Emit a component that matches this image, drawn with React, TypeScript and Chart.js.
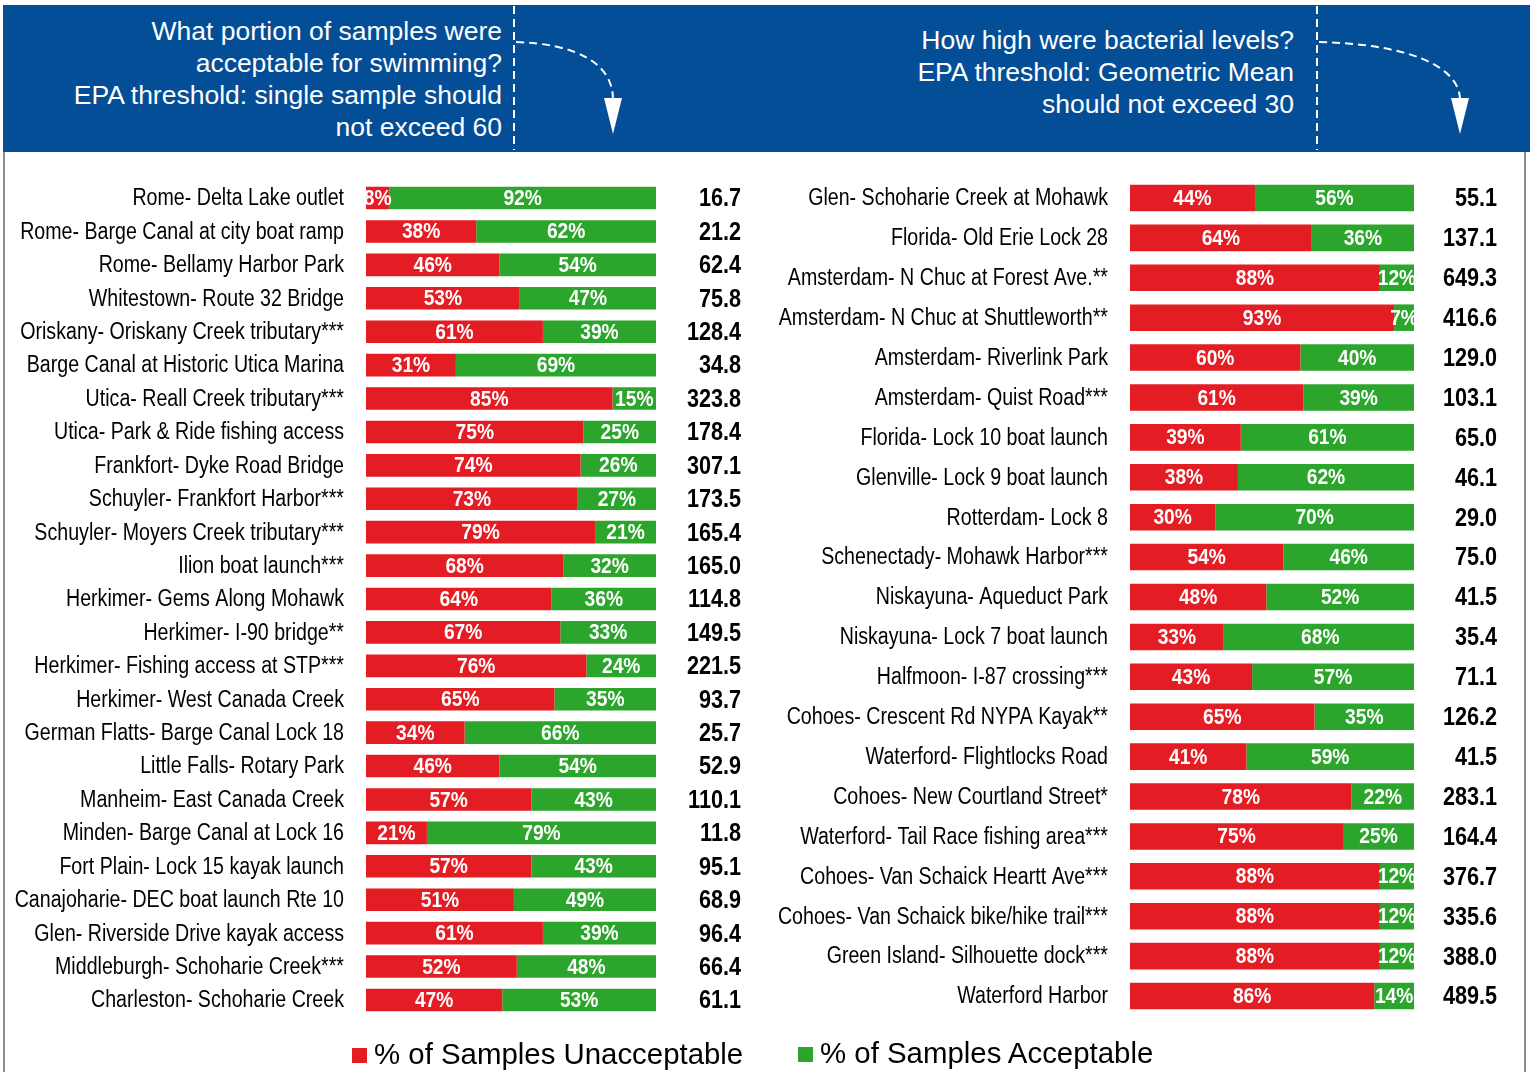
import React, { useEffect, useRef } from 'react';
import { Chart, registerables } from 'chart.js';

Chart.register(...registerables);

// ---------------- DATA ----------------
const leftSites = [
  'Rome- Delta Lake outlet',
  'Rome- Barge Canal at city boat ramp',
  'Rome- Bellamy Harbor Park',
  'Whitestown- Route 32 Bridge',
  'Oriskany- Oriskany Creek tributary***',
  'Barge Canal at Historic Utica Marina',
  'Utica- Reall Creek tributary***',
  'Utica- Park & Ride fishing access',
  'Frankfort- Dyke Road Bridge',
  'Schuyler- Frankfort Harbor***',
  'Schuyler- Moyers Creek tributary***',
  'Ilion boat launch***',
  'Herkimer- Gems Along Mohawk',
  'Herkimer- I-90 bridge**',
  'Herkimer- Fishing access at STP***',
  'Herkimer- West Canada Creek',
  'German Flatts- Barge Canal Lock 18',
  'Little Falls- Rotary Park',
  'Manheim- East Canada Creek',
  'Minden- Barge Canal at Lock 16',
  'Fort Plain- Lock 15 kayak launch',
  'Canajoharie- DEC boat launch Rte 10',
  'Glen- Riverside Drive kayak access',
  'Middleburgh- Schoharie Creek***',
  'Charleston- Schoharie Creek',
];
const leftUnacceptable = [8, 38, 46, 53, 61, 31, 85, 75, 74, 73, 79, 68, 64, 67, 76, 65, 34, 46, 57, 21, 57, 51, 61, 52, 47];
const leftAcceptable = [92, 62, 54, 47, 39, 69, 15, 25, 26, 27, 21, 32, 36, 33, 24, 35, 66, 54, 43, 79, 43, 49, 39, 48, 53];
const leftGeoMean = [16.7, 21.2, 62.4, 75.8, 128.4, 34.8, 323.8, 178.4, 307.1, 173.5, 165.4, 165.0, 114.8, 149.5, 221.5, 93.7, 25.7, 52.9, 110.1, 11.8, 95.1, 68.9, 96.4, 66.4, 61.1];

const rightSites = [
  'Glen- Schoharie Creek at Mohawk',
  'Florida- Old Erie Lock 28',
  'Amsterdam- N Chuc at Forest Ave.**',
  'Amsterdam- N Chuc at Shuttleworth**',
  'Amsterdam- Riverlink Park',
  'Amsterdam- Quist Road***',
  'Florida- Lock 10 boat launch',
  'Glenville- Lock 9 boat launch',
  'Rotterdam- Lock 8',
  'Schenectady- Mohawk Harbor***',
  'Niskayuna- Aqueduct Park',
  'Niskayuna- Lock 7 boat launch',
  'Halfmoon- I-87 crossing***',
  'Cohoes- Crescent Rd NYPA Kayak**',
  'Waterford- Flightlocks Road',
  'Cohoes- New Courtland Street*',
  'Waterford- Tail Race fishing area***',
  'Cohoes- Van Schaick Heartt Ave***',
  'Cohoes- Van Schaick bike/hike trail***',
  'Green Island- Silhouette dock***',
  'Waterford Harbor',
];
const rightUnacceptable = [44, 64, 88, 93, 60, 61, 39, 38, 30, 54, 48, 33, 43, 65, 41, 78, 75, 88, 88, 88, 86];
const rightAcceptable = [56, 36, 12, 7, 40, 39, 61, 62, 70, 46, 52, 68, 57, 35, 59, 22, 25, 12, 12, 12, 14];
const rightGeoMean = [55.1, 137.1, 649.3, 416.6, 129.0, 103.1, 65.0, 46.1, 29.0, 75.0, 41.5, 35.4, 71.1, 126.2, 41.5, 283.1, 164.4, 376.7, 335.6, 388.0, 489.5];

const seriesNames = ['% of Samples Unacceptable', '% of Samples Acceptable'];
const headerLeft = ['What portion of samples were', 'acceptable for swimming?', 'EPA threshold: single sample should', 'not exceed 60'];
const headerRight = ['How high were bacterial levels?', 'EPA threshold: Geometric Mean', 'should not exceed 30'];

// ---------------- STYLE ----------------
const RED = '#E41C23';
const GREEN = '#2CA52C';
const BLUE = '#034E97';
const FAMILY = "'Liberation Sans', Arial, sans-serif";

function drawNarrow(ctx: CanvasRenderingContext2D, text: string, x: number, y: number, sx: number) {
  ctx.save();
  ctx.translate(x, y);
  ctx.scale(sx, 1);
  ctx.fillText(text, 0, 0);
  ctx.restore();
}

function makeTextPlugin(sites: string[], values: number[], valOffset: number) {
  return {
    id: 'barTexts',
    afterDatasetsDraw(chart: any) {
      const { ctx, chartArea } = chart;
      const yScale = chart.scales.y;

      // category labels (drawn at the y scale's positions, condensed)
      ctx.save();
      ctx.font = `23px ${FAMILY}`;
      ctx.fillStyle = '#000000';
      ctx.textAlign = 'right';
      ctx.textBaseline = 'middle';
      sites.forEach((s, i) => drawNarrow(ctx, s, chartArea.left - 22, yScale.getPixelForValue(i) + 1, 0.853));
      ctx.restore();

      // percentage labels inside the bar segments
      ctx.save();
      ctx.beginPath();
      ctx.rect(chartArea.left, chartArea.top - 20, chartArea.right - chartArea.left, chartArea.bottom - chartArea.top + 40);
      ctx.clip();
      ctx.font = `bold 22px ${FAMILY}`;
      ctx.fillStyle = '#ffffff';
      ctx.textAlign = 'center';
      ctx.textBaseline = 'middle';
      chart.data.datasets.forEach((ds: any, di: number) => {
        const meta = chart.getDatasetMeta(di);
        meta.data.forEach((el: any, i: number) => {
          const p = el.getProps(['x', 'base', 'y'], true);
          drawNarrow(ctx, `${ds.data[i]}%`, (p.x + p.base) / 2, p.y + 1, 0.873);
        });
      });
      ctx.restore();

      // geometric mean values
      ctx.save();
      ctx.font = `bold 25px ${FAMILY}`;
      ctx.fillStyle = '#000000';
      ctx.textAlign = 'right';
      ctx.textBaseline = 'middle';
      values.forEach((v, i) => {
        drawNarrow(ctx, v.toFixed(1), chartArea.right + valOffset, yScale.getPixelForValue(i) + 1.5, 0.865);
      });
      ctx.restore();
    },
  };
}

interface PanelProps {
  sites: string[];
  unacc: number[];
  acc: number[];
  values: number[];
  left: number;
  width: number;
  axisWidth: number;
  padTop: number;
  padBottom: number;
  padRight: number;
  valOffset: number;
  barPct: number;
}

function Panel(p: PanelProps) {
  const ref = useRef<HTMLCanvasElement>(null);
  useEffect(() => {
    if (!ref.current) return;
    const chart = new Chart(ref.current, {
      type: 'bar',
      data: {
        labels: p.sites,
        datasets: [
          { label: seriesNames[0], data: p.unacc, backgroundColor: RED, borderWidth: 0, barPercentage: p.barPct, categoryPercentage: 1 },
          { label: seriesNames[1], data: p.acc, backgroundColor: GREEN, borderWidth: 0, barPercentage: p.barPct, categoryPercentage: 1 },
        ],
      },
      options: {
        indexAxis: 'y',
        responsive: false,
        animation: false,
        events: [],
        layout: { padding: { top: p.padTop, bottom: p.padBottom, left: 0, right: p.padRight } },
        plugins: { legend: { display: false }, tooltip: { enabled: false } },
        scales: {
          x: { stacked: true, min: 0, max: 100, display: false },
          y: {
            stacked: true,
            grid: { display: false, drawTicks: false },
            border: { display: false },
            ticks: { display: false },
            afterFit: (s: any) => {
              s.width = p.axisWidth;
              s.paddingTop = 0;
              s.paddingBottom = 0;
            },
          },
        },
      } as any,
      plugins: [makeTextPlugin(p.sites, p.values, p.valOffset)],
    });
    return () => chart.destroy();
  }, []);
  return (
    <canvas
      ref={ref}
      width={p.width}
      height={880}
      style={{ position: 'absolute', left: p.left, top: 160, width: p.width, height: 880 }}
    />
  );
}

export default function App() {
  const headFont = FAMILY;
  return (
    <div style={{ position: 'absolute', left: 0, top: 0, width: 1530, height: 1072, background: '#fff', overflow: 'hidden' }}>
      {/* frame */}
      <div style={{ position: 'absolute', left: 3, top: 150, width: 1523, height: 940, border: '2px solid #8c8c8c', boxSizing: 'border-box' }} />
      {/* header band */}
      <div style={{ position: 'absolute', left: 3, top: 5, width: 1527, height: 147, background: BLUE }} />
      <div style={{ position: 'absolute', left: 0, top: 15, width: 502, textAlign: 'right', color: '#fff', fontFamily: headFont, fontSize: 26.5, lineHeight: '32px', whiteSpace: 'nowrap' }}>
        {headerLeft.map((t, i) => <div key={i}>{t}</div>)}
      </div>
      <div style={{ position: 'absolute', left: 700, top: 24, width: 594, textAlign: 'right', color: '#fff', fontFamily: headFont, fontSize: 26.5, lineHeight: '32px', whiteSpace: 'nowrap' }}>
        {headerRight.map((t, i) => <div key={i}>{t}</div>)}
      </div>
      <svg width={1530} height={160} style={{ position: 'absolute', left: 0, top: 0 }}>
        <line x1={514} y1={6} x2={514} y2={150} stroke="#fff" strokeWidth={2} strokeDasharray="8 5" />
        <path d="M 516 42 C 575 44, 613 62, 613 100" stroke="#fff" strokeWidth={2} strokeDasharray="8 5" fill="none" />
        <polygon points="604,98 622,98 613,134" fill="#fff" />
        <line x1={1317} y1={6} x2={1317} y2={150} stroke="#fff" strokeWidth={2} strokeDasharray="8 5" />
        <path d="M 1319 42 C 1405 44, 1460 65, 1460 100" stroke="#fff" strokeWidth={2} strokeDasharray="8 5" fill="none" />
        <polygon points="1451,98 1469,98 1460,134" fill="#fff" />
      </svg>

      <Panel sites={leftSites} unacc={leftUnacceptable} acc={leftAcceptable} values={leftGeoMean}
        left={0} width={760} axisWidth={366} padTop={21.3} padBottom={23.3} padRight={104} valOffset={85} barPct={0.676} />
      <Panel sites={rightSites} unacc={rightUnacceptable} acc={rightAcceptable} values={rightGeoMean}
        left={760} width={770} axisWidth={370} padTop={18} padBottom={24} padRight={116} valOffset={83} barPct={0.665} />

      {/* legend */}
      <div style={{ position: 'absolute', left: 352, top: 1048, width: 15, height: 15, background: RED }} />
      <div style={{ position: 'absolute', left: 374, top: 1037, fontFamily: headFont, fontSize: 29.4, lineHeight: '34px', color: '#000', whiteSpace: 'nowrap' }}>{seriesNames[0]}</div>
      <div style={{ position: 'absolute', left: 798, top: 1047, width: 15, height: 15, background: GREEN }} />
      <div style={{ position: 'absolute', left: 820, top: 1036, fontFamily: headFont, fontSize: 29.4, lineHeight: '34px', color: '#000', whiteSpace: 'nowrap' }}>{seriesNames[1]}</div>
    </div>
  );
}
